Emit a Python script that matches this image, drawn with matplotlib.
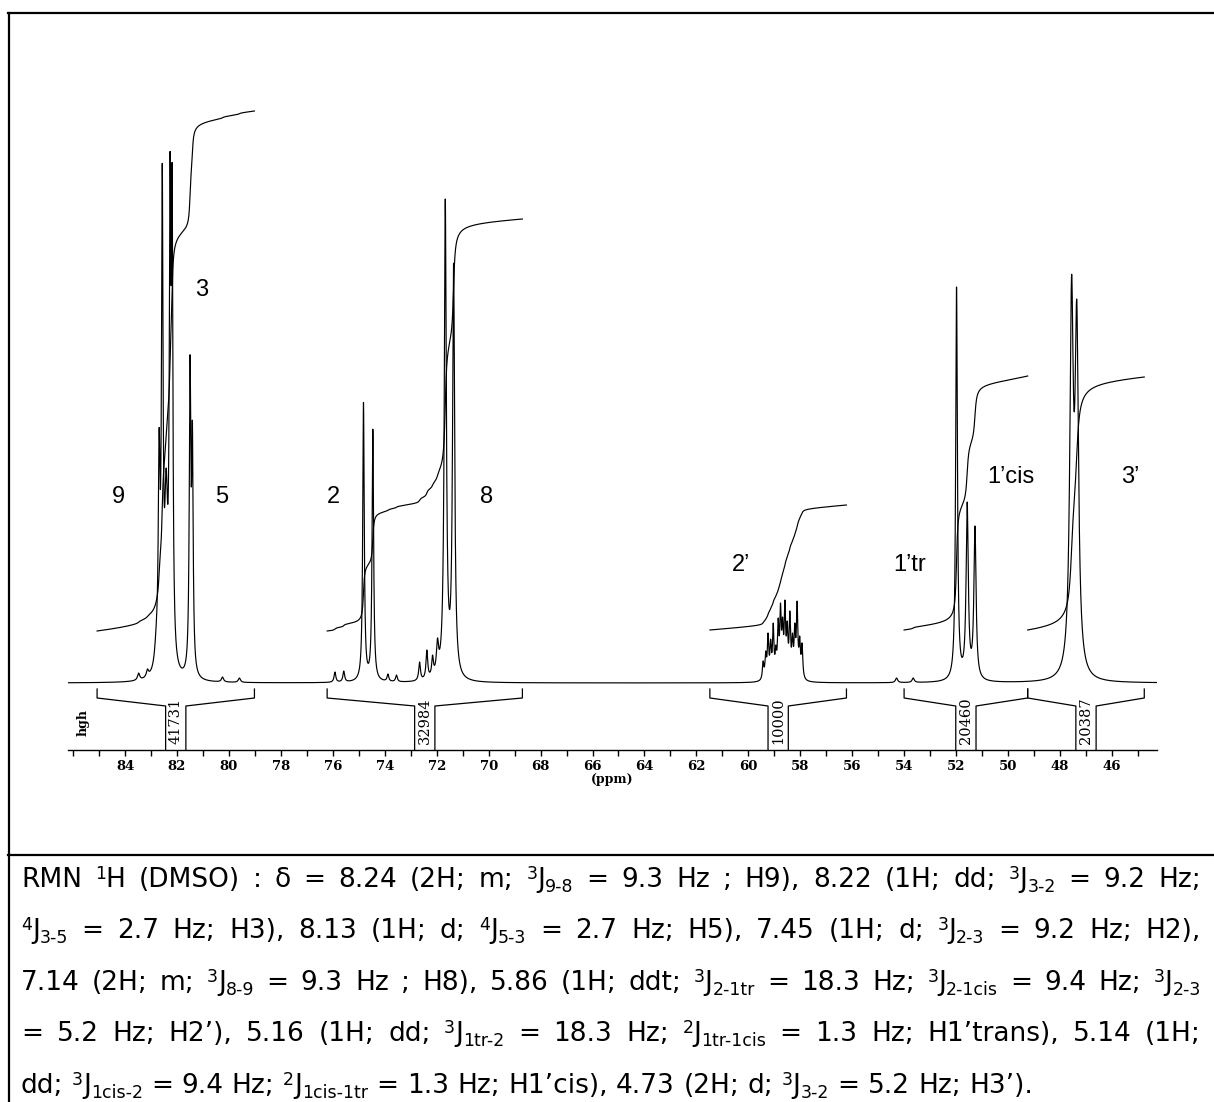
import re
import numpy as np
import matplotlib.pyplot as plt
from matplotlib.lines import Line2D

W, H = 1214, 1102

# spectrum lines: centre (ppm), height at centre, half width (ppm)
line_ppm = [83.48, 83.14, 82.80, 82.69, 82.57, 82.42, 82.27, 82.19, 81.50, 81.41, 80.25, 79.60,
            75.92, 75.58, 74.82, 74.46, 73.88, 73.55, 72.66, 72.38, 72.16, 71.97, 71.67, 71.35,
            59.43, 59.33, 59.24, 59.14, 59.04, 58.94, 58.85, 58.76, 58.68, 58.59, 58.50,
            58.40, 58.30, 58.21, 58.12, 58.02, 57.93,
            54.29, 53.65, 51.98, 51.57, 51.27, 47.55, 47.35]
line_top = [10, 14, 60, 255, 520, 215, 531, 519, 328, 262, 6, 5,
            11, 12, 281, 254, 9, 8, 21, 33, 28, 45, 484, 420,
            22, 32, 50, 44, 60, 38, 65, 80, 66, 83, 62,
            72, 50, 60, 82, 47, 40,
            5, 5, 396, 181, 157, 408, 383]
line_hw = [0.05, 0.05, 0.08, 0.04, 0.035, 0.07, 0.035, 0.035, 0.035, 0.035, 0.05, 0.05,
           0.04, 0.04, 0.035, 0.035, 0.04, 0.04, 0.04, 0.04, 0.04, 0.05, 0.048, 0.048,
           0.033, 0.033, 0.033, 0.033, 0.033, 0.033, 0.033, 0.033, 0.033, 0.033, 0.033,
           0.033, 0.033, 0.033, 0.033, 0.033, 0.033,
           0.05, 0.05, 0.04, 0.05, 0.05, 0.08, 0.08]

# integral regions
int_from = [85.08, 76.22, 61.48, 54.00, 49.24]
int_to = [79.02, 68.70, 56.22, 49.24, 44.75]
int_value = ['41731', '32984', '10000', '20460', '20387']
int_start = [52, 52, 53, 53, 53]
int_end = [572, 464, 178, 307, 306]
int_drift = [16, 12, 10, 10, 10]

peak_names = ['9', '3', '5', '2', '8', '2’', '1’tr', '1’cis', '3’']
name_ppm = [84.25, 81.05, 80.29, 75.97, 70.08, 60.3, 53.78, 49.89, 45.3]
name_h = [186, 393, 186, 186, 186, 118, 118, 206, 206]

caption = [
    "RMN ^{1}H (DMSO) : δ = 8.24 (2H; m; ^{3}J_{9-8} = 9.3 Hz ; H9), 8.22 (1H; dd; ^{3}J_{3-2} = 9.2 Hz;",
    "^{4}J_{3-5} = 2.7 Hz; H3), 8.13 (1H; d; ^{4}J_{5-3} = 2.7 Hz; H5), 7.45 (1H; d; ^{3}J_{2-3} = 9.2 Hz; H2),",
    "7.14 (2H; m; ^{3}J_{8-9} = 9.3 Hz ; H8), 5.86 (1H; ddt; ^{3}J_{2-1tr} = 18.3 Hz; ^{3}J_{2-1cis} = 9.4 Hz; ^{3}J_{2-3}",
    "= 5.2 Hz; H2’), 5.16 (1H; dd; ^{3}J_{1tr-2} = 18.3 Hz; ^{2}J_{1tr-1cis} = 1.3 Hz; H1’trans), 5.14 (1H;",
    "dd; ^{3}J_{1cis-2} = 9.4 Hz; ^{2}J_{1cis-1tr} = 1.3 Hz; H1’cis), 4.73 (2H; d; ^{3}J_{3-2} = 5.2 Hz; H3’).",
]

# ---- build the spectrum from the line list ----
x = np.linspace(86.2, 44.26, 14000)
c = np.array(line_ppm)
w = np.array(line_hw)
A = 1.0 / (1.0 + ((c[:, None] - c[None, :]) / w[None, :]) ** 2)
amp = np.clip(np.linalg.solve(A, np.array(line_top, float)), 0, None)
spec = (amp[None, :] / (1.0 + ((x[:, None] - c[None, :]) / w[None, :]) ** 2)).sum(axis=1)

fig = plt.figure(figsize=(W / 100, H / 100), dpi=100)
ax = fig.add_axes([68 / W, (H - 750) / H, (1157 - 68) / W, 650 / H])
ax.plot(x, spec, color='black', lw=0.85)

for a, b, y0, y1, dr, val in zip(int_from, int_to, int_start, int_end, int_drift, int_value):
    m = (x <= a) & (x >= b)
    cum = np.cumsum(spec[m])
    frac = cum / cum[-1]
    t = np.linspace(0, 1, m.sum())
    ax.plot(x[m], y0 + dr * t + (y1 - y0 - dr) * frac, color='black', lw=0.85)
    cen = (a + b) / 2
    ax.plot([a, a, cen + 0.39, cen + 0.39], [-6, -15, -23, -67], color='black', lw=0.9)
    ax.plot([b, b, cen - 0.39, cen - 0.39], [-6, -15, -23, -67], color='black', lw=0.9)
    ax.text(cen, -38, val, rotation=90, ha='center', va='center',
            family='DejaVu Serif', fontsize=10.5)

for name, p, h in zip(peak_names, name_ppm, name_h):
    ax.text(p, h, name, ha='center', va='center', family='Liberation Sans', fontsize=17)

ax.set_xlim(86.2, 44.26)
ax.set_ylim(-67, 583)
for s in ['top', 'left', 'right']:
    ax.spines[s].set_visible(False)
ax.spines['bottom'].set_linewidth(1.0)
ax.set_yticks([])
ax.set_xticks(np.arange(84, 45, -2))
ax.set_xticks(np.arange(86, 44, -1), minor=True)
ax.tick_params(axis='x', which='both', direction='out', length=4, width=1.0, pad=3)
for lab in ax.get_xticklabels():
    lab.set_family('DejaVu Serif')
    lab.set_fontweight('bold')
    lab.set_fontsize(9.5)
ax.set_xlabel('(ppm)', family='DejaVu Serif', fontweight='bold', fontsize=9, labelpad=0)
fig.text(83 / W, 1 - 723 / H, 'hgh', rotation=90, ha='center', va='center',
         family='DejaVu Serif', fontweight='bold', fontsize=9)

# frame
for xs, ys in [([8, W], [13, 13]), ([9, 9], [13, H]), ([8, W], [855, 855])]:
    fig.add_artist(Line2D([v / W for v in xs], [1 - v / H for v in ys],
                          transform=fig.transFigure, color='black', lw=1.6))

# caption, justified like the original
fs, fs_small = 19, 12.5
r = fig.canvas.get_renderer()


def parse(word):
    segs = []
    for mm in re.finditer(r'\^\{([^}]*)\}|_\{([^}]*)\}|[^^_]+', word):
        if mm.group(1) is not None:
            segs.append((mm.group(1), 'sup'))
        elif mm.group(2) is not None:
            segs.append((mm.group(2), 'sub'))
        else:
            segs.append((mm.group(0), 'n'))
    return segs


def make_word(word):
    texts = []
    for s, kind in parse(word):
        t = fig.text(0, 0, s, fontsize=fs if kind == 'n' else fs_small,
                     family='DejaVu Sans', va='baseline', ha='left')
        texts.append((t, kind, t.get_window_extent(r).width))
    return texts


sp = fig.text(0, 0, 'a a', fontsize=fs, family='DejaVu Sans')
sp2 = fig.text(0, 0, 'aa', fontsize=fs, family='DejaVu Sans')
space_w = sp.get_window_extent(r).width - sp2.get_window_extent(r).width
sp.remove()
sp2.remove()

x_left, x_right = 21, 1201
baselines = [887, 938, 990, 1041, 1093]
for i, (line, yb) in enumerate(zip(caption, baselines)):
    words = [make_word(wd) for wd in line.split(' ')]
    widths = [sum(tw for _, _, tw in wd) for wd in words]
    if i < len(caption) - 1:
        gap = (x_right - x_left - sum(widths)) / (len(words) - 1)
    else:
        gap = space_w
    xp = x_left
    for wd, wt in zip(words, widths):
        xs = xp
        for t, kind, tw in wd:
            dy = {'n': 0, 'sup': 8, 'sub': -5}[kind]
            t.set_position((xs / W, 1 - (yb - dy) / H))
            xs += tw
        xp += wt + gap

fig.savefig('out.png', dpi=100)
